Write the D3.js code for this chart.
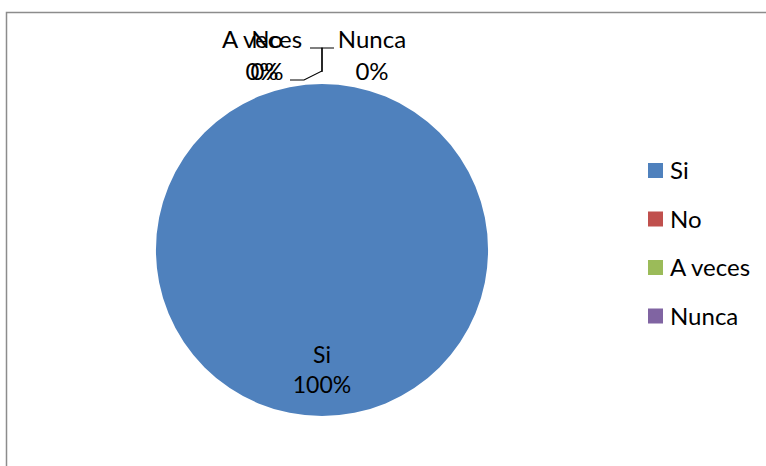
<!DOCTYPE html>
<html>
<head>
<meta charset="utf-8">
<script src="https://cdn.jsdelivr.net/npm/d3@7"></script>
<style>
  html, body { margin: 0; padding: 0; background: #fff; }
  svg { display: block; }
</style>
</head>
<body>
<svg id="chart"></svg>
<script>
// Chart data
const categories = ["Si", "No", "A veces", "Nunca"];
const values = [100, 0, 0, 0];
const colors = ["#4F81BD", "#C0504D", "#9BBB59", "#8064A2"];

const svgWidth = 766;
const svgHeight = 466;
const font = "Lato, 'Open Sans', sans-serif";

const svg = d3.select("#chart")
    .attr("width", svgWidth)
    .attr("height", svgHeight);

// Chart area border (runs off the right and bottom edges)
svg.append("rect")
    .attr("x", 6.5)
    .attr("y", 12.5)
    .attr("width", 900)
    .attr("height", 600)
    .attr("fill", "none")
    .attr("stroke", "#8c8c8c")
    .attr("stroke-width", 1.5);

const cx = 322, cy = 250, r = 166;
const total = d3.sum(values);
const pct = v => Math.round(v / total * 100) + "%";

const pie = d3.pie().sort(null).value(d => d.value);
const arc = d3.arc().innerRadius(0).outerRadius(r);
const data = categories.map((c, i) => ({ name: c, value: values[i], color: colors[i] }));
const arcs = pie(data);

const g = svg.append("g").attr("transform", `translate(${cx},${cy})`);

g.selectAll("path")
    .data(arcs)
    .join("path")
    .attr("d", arc)
    .attr("fill", d => d.data.color);

// Label inside the big slice
const big = arcs.filter(d => d.value > 0);
const inLabel = g.selectAll("text.inlabel")
    .data(big)
    .join("text")
    .attr("class", "inlabel")
    .attr("text-anchor", "middle")
    .attr("font-family", font)
    .attr("font-size", 23)
    .attr("fill", "#000");
inLabel.each(function (d) {
    // along the slice's mid angle, pushed outward like Excel's best-fit label
    const a = (d.startAngle + d.endAngle) / 2;
    const x = Math.sin(a) * r * 0.75;
    const y = -Math.cos(a) * r * 0.75;
    const t = d3.select(this);
    t.append("tspan").attr("x", x).attr("y", y - 12).text(d.data.name);
    t.append("tspan").attr("x", x).attr("y", y + 18).text(pct(d.data.value));
});

// Zero slices: labels above the top of the pie
const pieTop = -r;
const zeroOffsets = { "No": -55, "A veces": -60, "Nunca": 50 };
const zero = arcs.filter(d => d.value === 0);
const zl = g.selectAll("text.zlabel")
    .data(zero)
    .join("text")
    .attr("class", "zlabel")
    .attr("text-anchor", "middle")
    .attr("font-family", font)
    .attr("font-size", 24)
    .attr("fill", "#000");
zl.each(function (d) {
    const x = zeroOffsets[d.data.name];
    const t = d3.select(this);
    t.append("tspan").attr("x", x).attr("y", pieTop - 36).text(d.data.name);
    t.append("tspan").attr("x", x).attr("y", pieTop - 4).text(pct(d.data.value));
});

// Leader lines
const leaders = [
    [[-32, pieTop - 4], [-18, pieTop - 4], [0, pieTop - 13], [0, pieTop - 36], [-12, pieTop - 36]],
    [[12, pieTop - 36], [0, pieTop - 36], [0, pieTop - 12]]
];
g.selectAll("path.leader")
    .data(leaders)
    .join("path")
    .attr("class", "leader")
    .attr("d", d3.line())
    .attr("fill", "none")
    .attr("stroke", "#000")
    .attr("stroke-width", 1.2);

// Legend
const legend = svg.append("g").attr("transform", "translate(648,163)");
const item = legend.selectAll("g")
    .data(data)
    .join("g")
    .attr("transform", (d, i) => `translate(0,${i * 48.5})`);
item.append("rect")
    .attr("width", 15)
    .attr("height", 15)
    .attr("fill", d => d.color);
item.append("text")
    .attr("x", 22)
    .attr("y", 16)
    .attr("font-family", font)
    .attr("font-size", 24)
    .attr("fill", "#000")
    .text(d => d.name);
</script>
</body>
</html>
